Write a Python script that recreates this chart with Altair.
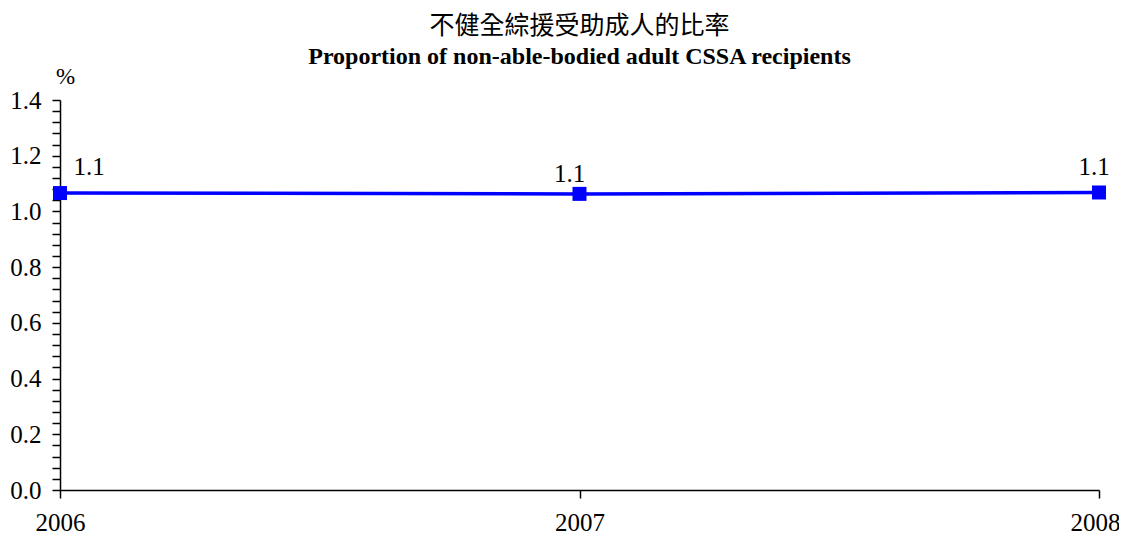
import altair as alt
import pandas as pd

years = [2006, 2007, 2008]
rates = [1.066, 1.063, 1.068]
labels = ["1.1", "1.1", "1.1"]

title_zh = "不健全綜援受助成人的比率"
title_en = "Proportion of non-able-bodied adult CSSA recipients"

df = pd.DataFrame({"year": years, "rate": rates, "label": labels})

SERIF = "Liberation Serif"
BLUE = "#0000FF"

y_tick_values = [round(i * 0.04, 2) for i in range(36)]

x_enc = alt.X(
    "year:O",
    scale=alt.Scale(type="point", padding=0),
    axis=alt.Axis(
        title=None, grid=False, labelAngle=0,
        domainColor="black", domainWidth=1.5, tickColor="black", tickWidth=1.5,
        tickSize=8, labelPadding=12, labelFont=SERIF, labelFontSize=25,
        labelColor="black", labelOverlap=False, labelBound=False, labelFlush=False,
        labelOffset={"expr": "datum.value == 2008 ? -4 : 0"},
    ),
)
y_enc = alt.Y(
    "rate:Q",
    scale=alt.Scale(domain=[0, 1.4], nice=False),
    axis=alt.Axis(
        values=y_tick_values, tickCount=200, grid=False,
        labelExpr="abs(datum.value*5 - round(datum.value*5)) < 0.001 ? format(datum.value, '.1f') : ''",
        domainColor="black", domainWidth=1.5, tickColor="black", tickWidth=1.5,
        tickSize=8, labelPadding=11, labelFont=SERIF, labelFontSize=25,
        labelColor="black", labelOverlap=False, labelBound=False, labelFlush=False,
        title="%", titleAngle=0, titleFont=SERIF, titleFontSize=23,
        titleFontWeight="normal", titleColor="black", titleAlign="center",
        titleBaseline="middle", titleX=5, titleY=-24,
    ),
)

base = alt.Chart(df)
line = base.mark_line(color=BLUE, strokeWidth=3.5).encode(x=x_enc, y=y_enc)
pts = base.mark_point(shape="square", filled=True, color=BLUE, size=196, opacity=1).encode(x="year:O", y="rate:Q")

offsets = {2006: (29, -26), 2007: (-10, -20), 2008: (-5, -25)}
texts = []
for yr in years:
    dx, dy = offsets[yr]
    texts.append(
        base.transform_filter(alt.datum.year == yr)
        .mark_text(font=SERIF, fontSize=25, color="black", dx=dx, dy=dy, baseline="middle", align="center")
        .encode(x="year:O", y="rate:Q", text="label:N")
    )

chart = alt.layer(line, pts, *texts).properties(
    width=1039,
    height=390,
    background="white",
    autosize=alt.AutoSizeParams(type="none"),
    padding={"left": 52, "top": 92, "right": 20, "bottom": 44},
    title=alt.TitleParams(
        text=title_zh,
        subtitle=title_en,
        font="Noto Sans CJK TC",
        fontSize=25,
        fontWeight="normal",
        color="black",
        subtitleFont=SERIF,
        subtitleFontSize=24,
        subtitleFontWeight="bold",
        subtitleColor="black",
        subtitlePadding=6,
        anchor="middle",
        offset=-4,
    ),
).configure_view(stroke=None)

chart.save("out.html", embed_options={"renderer": "svg", "actions": False})
